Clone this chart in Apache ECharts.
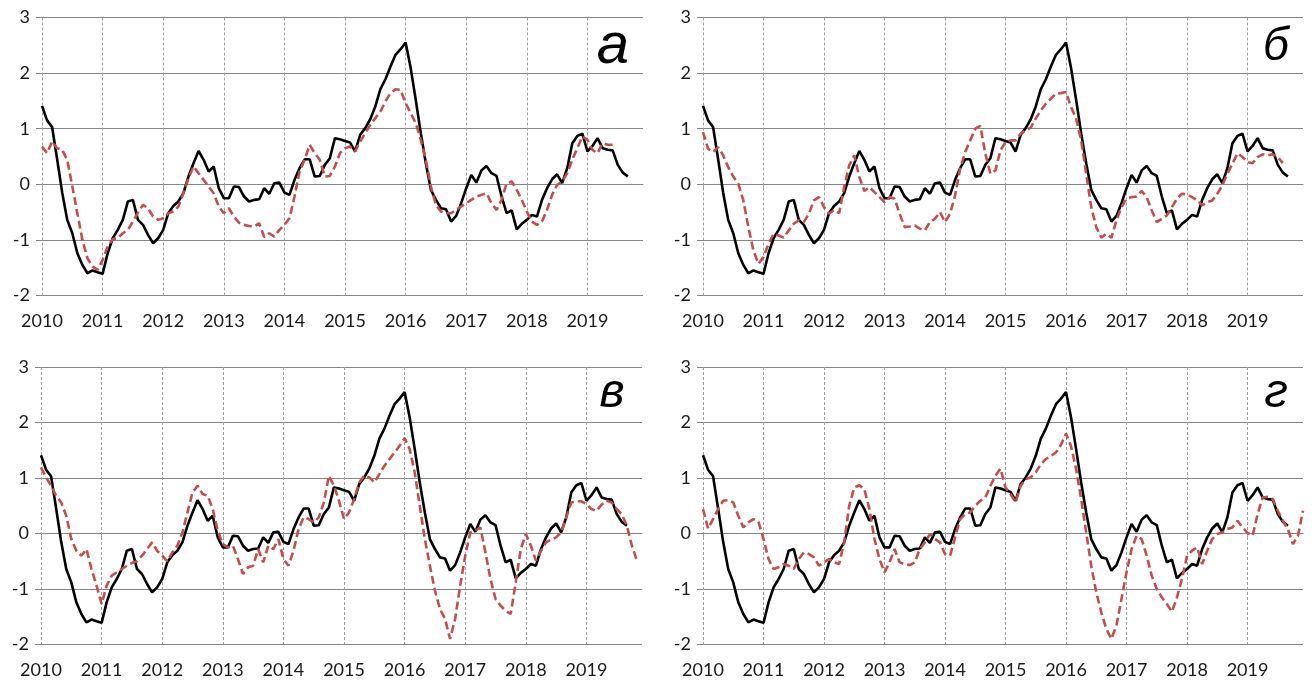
<!DOCTYPE html>
<html>
<head>
<meta charset="utf-8">
<script src="https://cdn.jsdelivr.net/npm/echarts@6/dist/echarts.min.js"></script>
<style>
  html, body { margin: 0; padding: 0; background: #fff; }
  #chart { width: 1316px; height: 683px; }
</style>
</head>
<body>
<div id="chart"></div>
<script>
// monthly points, Jan 2010 .. Dec 2019
var months = [];
for (var y = 2010; y <= 2019; y++) {
  for (var mo = 1; mo <= 12; mo++) months.push(y + '-' + (mo < 10 ? '0' + mo : mo));
}

var panelLetters = ['а', 'б', 'в', 'г'];

// black solid line, same in every panel (Jan 2010 .. Sep 2019)
var actual = [
  1.41, 1.15, 1.03, 0.45, -0.15, -0.64, -0.88, -1.24, -1.45, -1.6,
  -1.55, -1.58, -1.61, -1.24, -0.97, -0.82, -0.64, -0.31, -0.28, -0.64,
  -0.73, -0.91, -1.06, -0.97, -0.82, -0.52, -0.39, -0.31, -0.16, 0.14,
  0.38, 0.6, 0.44, 0.23, 0.32, -0.07, -0.25, -0.25, -0.04, -0.05,
  -0.22, -0.31, -0.28, -0.27, -0.07, -0.17, 0.02, 0.03, -0.15, -0.19,
  0.08, 0.29, 0.45, 0.45, 0.14, 0.15, 0.35, 0.47, 0.83, 0.81,
  0.78, 0.75, 0.59, 0.89, 1.01, 1.17, 1.4, 1.71, 1.89, 2.12,
  2.33, 2.43, 2.55, 2.09, 1.52, 0.92, 0.38, -0.1, -0.28, -0.43,
  -0.45, -0.67, -0.57, -0.34, -0.07, 0.17, 0.03, 0.25, 0.33, 0.2,
  0.15, -0.22, -0.52, -0.47, -0.81, -0.71, -0.64, -0.55, -0.58, -0.28,
  -0.07, 0.09, 0.18, 0.02, 0.29, 0.74, 0.87, 0.91, 0.59, 0.69,
  0.83, 0.65, 0.62, 0.61, 0.35, 0.21, 0.14
];

// red dashed lines, one per panel
var modelA = [
  0.68, 0.56, 0.77, 0.65, 0.62, 0.44, -0.04, -0.52, -1.0, -1.33,
  -1.48, -1.54, -1.36, -1.12, -0.99, -0.97, -0.88, -0.82, -0.67, -0.51,
  -0.37, -0.43, -0.58, -0.64, -0.61, -0.52, -0.49, -0.4, -0.16, 0.11,
  0.32, 0.2, 0.08, -0.04, -0.16, -0.4, -0.52, -0.43, -0.58, -0.69,
  -0.73, -0.75, -0.76, -0.7, -0.95, -0.88, -0.94, -0.82, -0.73, -0.61,
  -0.22, 0.23, 0.44, 0.71, 0.56, 0.44, 0.14, 0.15, 0.32, 0.56,
  0.65, 0.68, 0.59, 0.77, 0.92, 1.07, 1.19, 1.31, 1.49, 1.64,
  1.71, 1.7, 1.46, 1.28, 1.1, 0.8, 0.44, -0.04, -0.37, -0.49,
  -0.52, -0.52, -0.46, -0.4, -0.34, -0.28, -0.22, -0.19, -0.16, -0.34,
  -0.46, -0.28, 0.02, 0.05, -0.1, -0.28, -0.49, -0.67, -0.73, -0.67,
  -0.46, -0.19, -0.01, 0.05, 0.2, 0.44, 0.65, 0.86, 0.8, 0.62,
  0.56, 0.74, 0.71, 0.71
];
var modelB = [
  0.94, 0.64, 0.58, 0.67, 0.52, 0.31, 0.14, 0.01, -0.29, -0.77,
  -1.19, -1.43, -1.31, -1.07, -0.89, -0.92, -0.96, -0.83, -0.71, -0.65,
  -0.68, -0.53, -0.29, -0.23, -0.41, -0.53, -0.46, -0.52, -0.05, 0.34,
  0.52, 0.13, -0.12, -0.05, -0.14, -0.23, -0.32, -0.23, -0.26, -0.53,
  -0.77, -0.76, -0.74, -0.8, -0.83, -0.68, -0.62, -0.5, -0.68, -0.53,
  -0.2, 0.28, 0.58, 0.79, 1.0, 1.05, 0.55, 0.19, 0.25, 0.61,
  0.76, 0.79, 0.79, 0.91, 0.97, 1.02, 1.18, 1.33, 1.45, 1.54,
  1.63, 1.64, 1.66, 1.39, 1.18, 0.79, 0.19, -0.41, -0.77, -0.96,
  -0.89, -0.96, -0.65, -0.41, -0.26, -0.23, -0.22, -0.12, -0.23, -0.47,
  -0.68, -0.62, -0.56, -0.41, -0.26, -0.17, -0.18, -0.23, -0.29, -0.38,
  -0.32, -0.29, -0.17, -0.02, 0.19, 0.37, 0.56, 0.49, 0.4, 0.38,
  0.49, 0.54, 0.52, 0.54, 0.49, 0.38
];
var modelV = [
  1.19, 1.01, 0.86, 0.68, 0.56, 0.32, -0.1, -0.31, -0.4, -0.28,
  -0.64, -0.94, -1.27, -0.94, -0.76, -0.7, -0.64, -0.58, -0.53, -0.5,
  -0.4, -0.28, -0.16, -0.31, -0.4, -0.5, -0.34, -0.22, 0.02, 0.38,
  0.74, 0.86, 0.71, 0.68, 0.44, 0.05, -0.19, -0.25, -0.22, -0.46,
  -0.73, -0.61, -0.58, -0.28, -0.52, -0.22, -0.28, -0.1, -0.46, -0.58,
  -0.31, 0.08, 0.29, 0.26, 0.2, 0.29, 0.56, 1.04, 0.86, 0.59,
  0.26, 0.38, 0.62, 0.92, 1.04, 1.01, 0.92, 1.07, 1.22, 1.34,
  1.46, 1.58, 1.72, 1.52, 1.1, 0.5, -0.1, -0.58, -1.03, -1.36,
  -1.54, -1.9, -1.54, -0.94, -0.4, 0.02, 0.05, 0.11, -0.34, -0.82,
  -1.18, -1.3, -1.39, -1.45, -0.88, -0.28, -0.01, -0.22, -0.49, -0.31,
  -0.16, -0.11, -0.07, 0.02, 0.29, 0.56, 0.58, 0.58, 0.53, 0.44,
  0.41, 0.52, 0.59, 0.56, 0.44, 0.35, 0.14, -0.22, -0.49
];
var modelG = [
  0.44, 0.09, 0.26, 0.44, 0.59, 0.6, 0.56, 0.32, 0.11, 0.2,
  0.26, 0.21, -0.1, -0.46, -0.64, -0.61, -0.55, -0.58, -0.64, -0.46,
  -0.34, -0.37, -0.43, -0.58, -0.52, -0.46, -0.52, -0.55, -0.16, 0.5,
  0.83, 0.87, 0.8, 0.44, -0.1, -0.46, -0.7, -0.52, -0.28, -0.52,
  -0.55, -0.57, -0.52, -0.28, -0.16, -0.01, -0.1, -0.16, -0.37, -0.4,
  -0.07, 0.26, 0.35, 0.38, 0.5, 0.59, 0.65, 0.86, 1.04, 1.17,
  0.83, 0.71, 0.56, 0.86, 0.98, 1.01, 1.1, 1.25, 1.34, 1.4,
  1.46, 1.6, 1.8, 1.57, 1.16, 0.62, 0.02, -0.58, -1.06, -1.42,
  -1.72, -1.9, -1.66, -1.18, -0.7, -0.28, -0.04, -0.1, -0.4, -0.76,
  -1.0, -1.15, -1.27, -1.41, -1.15, -0.82, -0.4, -0.31, -0.25, -0.55,
  -0.31, -0.1, -0.01, 0.02, 0.08, 0.11, 0.23, 0.11, 0.01, -0.04,
  0.35, 0.65, 0.66, 0.62, 0.41, 0.23, 0.08, -0.19, -0.04, 0.41
];
var models = [modelA, modelB, modelV, modelG];

var grids = [
  { left: 42, top: 17.5, width: 601, height: 278 },
  { left: 703, top: 17.5, width: 600, height: 278 },
  { left: 41, top: 367, width: 601, height: 277.5 },
  { left: 703, top: 367, width: 600, height: 277.5 }
];
var letterPos = [[613, 47, 58], [1276, 47, 46], [612, 394, 48], [1276, 394, 48]];

var labelFont = { fontFamily: 'Lato', fontSize: 18, color: '#1a1a1a' };

var xAxes = [], yAxes = [], series = [], graphics = [];
for (var i = 0; i < 4; i++) {
  xAxes.push({
    type: 'category',
    gridIndex: i,
    data: months,
    boundaryGap: false,
    axisLine: { lineStyle: { color: '#868686', width: 1 } },
    axisTick: { interval: 11, length: 4, lineStyle: { color: '#a6a6a6' } },
    axisLabel: {
      interval: 11,
      margin: 17,
      fontFamily: labelFont.fontFamily,
      fontSize: labelFont.fontSize,
      color: labelFont.color,
      formatter: function (v) { return v.slice(0, 4) }
    },
    splitLine: { show: true, interval: 11, lineStyle: { color: '#a0a0a0', type: [3, 2], width: 1 } }
  });
  yAxes.push({
    type: 'value',
    gridIndex: i,
    min: -2,
    max: 3,
    interval: 1,
    axisLine: { show: false },
    axisTick: { show: true, length: 6, lineStyle: { color: '#868686' } },
    axisLabel: {
      margin: 12,
      fontFamily: labelFont.fontFamily,
      fontSize: labelFont.fontSize,
      color: labelFont.color
    },
    splitLine: { lineStyle: { color: '#868686', width: 1 } }
  });
  series.push({
    type: 'line',
    xAxisIndex: i,
    yAxisIndex: i,
    data: actual,
    showSymbol: false,
    z: 3,
    lineStyle: { color: '#000', width: 2.6 }
  });
  series.push({
    type: 'line',
    xAxisIndex: i,
    yAxisIndex: i,
    data: models[i],
    showSymbol: false,
    z: 4,
    lineStyle: { color: '#c0504d', width: 2.6, type: [8, 4] }
  });
  graphics.push({
    type: 'text',
    x: letterPos[i][0],
    y: letterPos[i][1],
    style: {
      text: panelLetters[i],
      fill: '#000',
      font: 'italic ' + letterPos[i][2] + 'px "Liberation Sans"',
      textAlign: 'center',
      textVerticalAlign: 'middle'
    }
  });
}

var chart = echarts.init(document.getElementById('chart'));
chart.setOption({
  animation: false,
  grid: grids,
  xAxis: xAxes,
  yAxis: yAxes,
  series: series,
  graphic: graphics
});
</script>
</body>
</html>
